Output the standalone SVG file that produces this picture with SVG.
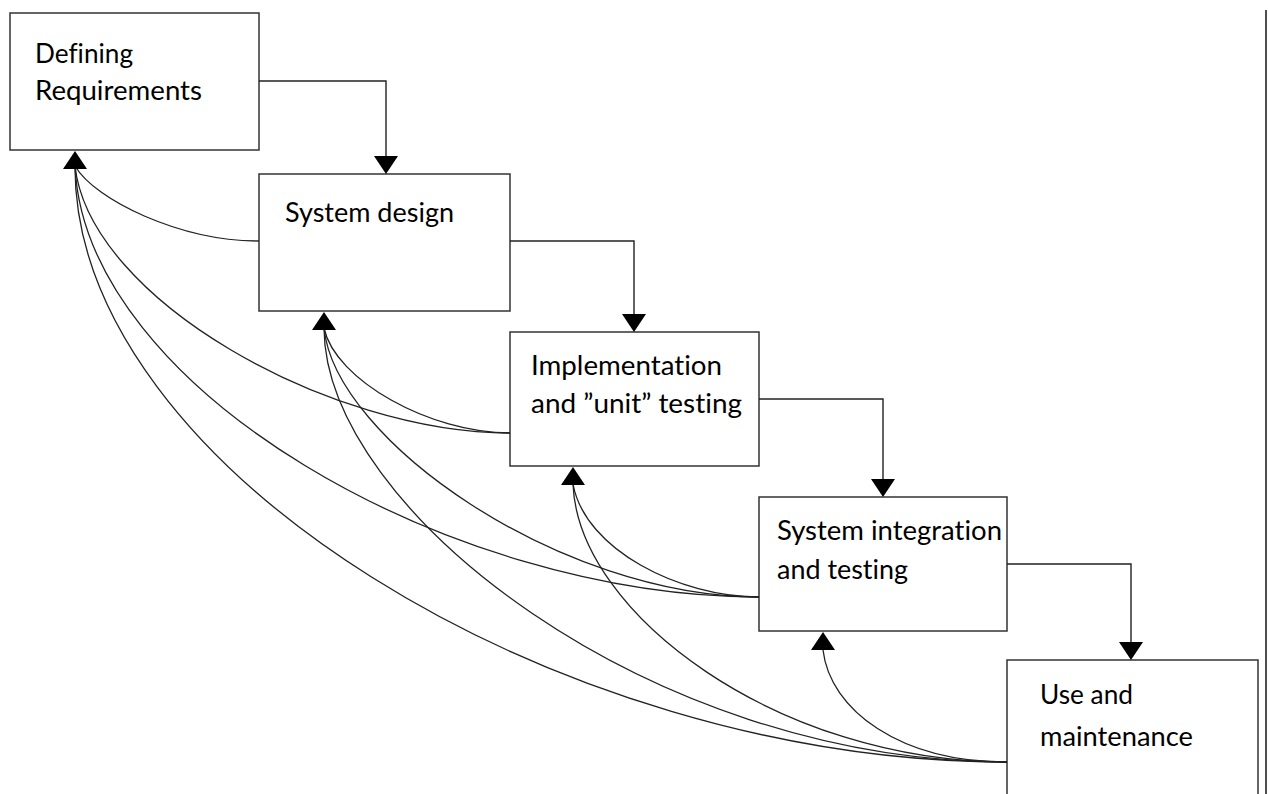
<svg xmlns="http://www.w3.org/2000/svg" xmlns:xlink="http://www.w3.org/1999/xlink" width="1268" height="794" viewBox="0 0 1268 794">
<style>
.box{fill:#fff;stroke:#333;stroke-width:1.5}
.lbl{font-family:Lato,"Open Sans","Liberation Sans",sans-serif;font-size:27px;fill:#000;font-variant-ligatures:none;font-feature-settings:"liga" 0,"clig" 0}
.ln{fill:none;stroke:#222;stroke-width:1.4}
.cv{fill:none;stroke:#222;stroke-width:1.3}
.ah{fill:#000}
</style>
<defs>
<polygon id="up" points="0,0 -12,18 12,18"/>
<polygon id="down" points="0,0 -12,-18 12,-18"/>
</defs>
<rect width="1268" height="794" fill="#fff"/>
<line x1="1266" y1="10" x2="1266" y2="794" stroke="#222" stroke-width="1.6"/>

<g id="node-defining-requirements">
<rect class="box" x="10" y="13" width="249" height="137"/>
<text class="lbl" x="35" y="63" textLength="98" lengthAdjust="spacingAndGlyphs">Defining</text>
<text class="lbl" x="35" y="100" textLength="167" lengthAdjust="spacingAndGlyphs">Requirements</text>
</g>
<g id="node-system-design">
<rect class="box" x="259" y="174" width="251" height="137"/>
<text class="lbl" x="285" y="222" textLength="169" lengthAdjust="spacingAndGlyphs">System design</text>
</g>
<g id="node-implementation">
<rect class="box" x="510" y="332" width="249" height="134"/>
<text class="lbl" x="531" y="375" textLength="191" lengthAdjust="spacingAndGlyphs">Implementation</text>
<text class="lbl" x="531" y="413" textLength="211" lengthAdjust="spacingAndGlyphs">and ”unit” testing</text>
</g>
<g id="node-integration">
<rect class="box" x="759" y="497" width="248" height="134"/>
<text class="lbl" x="777" y="540" textLength="225" lengthAdjust="spacingAndGlyphs">System integration</text>
<text class="lbl" x="777" y="579" textLength="131" lengthAdjust="spacingAndGlyphs">and testing</text>
</g>
<g id="node-use-maintenance">
<path class="box" d="M1007,800 V660 H1258 V800"/>
<text class="lbl" x="1040" y="704" textLength="93" lengthAdjust="spacingAndGlyphs">Use and</text>
<text class="lbl" x="1040" y="746" textLength="153" lengthAdjust="spacingAndGlyphs">maintenance</text>
</g>

<g id="connectors">
<path class="ln" d="M259,81 H386 V160"/>
<use href="#down" class="ah" x="386" y="174"/>
<path class="ln" d="M510,241 H634 V318"/>
<use href="#down" class="ah" x="634" y="332"/>
<path class="ln" d="M759,399 H883 V483"/>
<use href="#down" class="ah" x="883" y="497"/>
<path class="ln" d="M1007,564 H1131 V646"/>
<use href="#down" class="ah" x="1131" y="660"/>

<path class="cv" d="M259,241 C180,241 95,200 75,166"/>
<path class="cv" d="M510,433 C330,433 90,300 75,166"/>
<path class="cv" d="M759,597 C450,597 85,390 75,166"/>
<path class="cv" d="M1007,762 C557,762 74,468 75,166"/>

<path class="cv" d="M510,433 C430,433 335,380 324,328"/>
<path class="cv" d="M759,597 C560,597 335,440 324,328"/>
<path class="cv" d="M1007,762 C650,762 325,510 324,328"/>

<path class="cv" d="M759,597 C680,597 585,550 573,484"/>
<path class="cv" d="M1007,762 C780,762 578,615 573,484"/>

<path class="cv" d="M1007,762 C900,762 830,710 823,650"/>

<use href="#up" class="ah" x="75" y="151"/>
<use href="#up" class="ah" x="324" y="312"/>
<use href="#up" class="ah" x="573" y="467"/>
<use href="#up" class="ah" x="823" y="632"/>
</g>
</svg>
